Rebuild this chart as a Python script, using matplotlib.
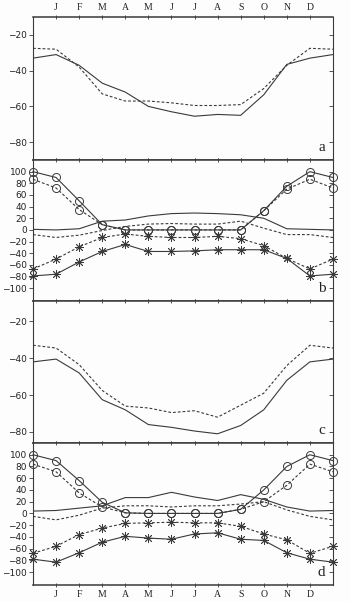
import numpy as np
import matplotlib
matplotlib.use("Agg")
import matplotlib.pyplot as plt

months = ['J', 'F', 'M', 'A', 'M', 'J', 'J', 'A', 'S', 'O', 'N', 'D']

# panel a (temperature-like curves)
a_solid = [-31, -37, -47, -52, -60, -63, -65.5, -64.5, -65, -53.5, -36.5, -33]
a_dash = [-28, -38, -53, -57, -57, -58, -59.5, -59.5, -59, -50, -37, -27.5]

# panel b
b_circ_solid = [90, 50, 9, 0, 0, 0, 0, 0, 0, 33, 75, 100]
b_circ_dash = [72, 35, 9, 0, 0, 0, 0, 0, 0, 33, 70, 87]
b_solid = [0, 2, 15, 17, 24, 28, 29, 28, 26, 20, 2, 1]
b_dash = [-13, -9, -1, 6, 10, 11, 10, 10, 15, 3, -8, -8]
b_star_solid = [-76, -55, -37, -25, -37, -37, -36, -34, -34, -34, -49, -79]
b_star_dash = [-50, -29, -13, -7, -11, -13, -13, -11, -15, -27, -49, -67]

# panel c
c_solid = [-40.5, -48, -62.5, -68, -76, -77.5, -79.5, -81, -76.5, -68, -52, -42]
c_dash = [-34.5, -43.5, -57.5, -66, -67, -69.5, -68.5, -72, -65.5, -59, -44, -33]

# panel d
d_circ_solid = [90, 56, 19, 1, 0, 0, 0, 0, 7, 40, 80, 100]
d_circ_dash = [71, 35, 11, 1, 0, 0, 0, 0, 7, 20, 48, 84]
d_solid = [5, 9, 13, 27, 27, 36, 28, 22, 32, 24, 11, 4]
d_dash = [-11, -3, 9, 13, 13, 11, 13, 13, 16, 20, 6, -5]
d_star_solid = [-83, -67, -49, -39, -42, -44, -35, -33, -44, -46, -67, -78]
d_star_dash = [-56, -36, -25, -17, -16, -15, -16, -16, -22, -35, -45, -68]

ink = '#3a3a3a'
x = np.arange(14)

def wrap(v):
    # December repeated on the left, January on the right
    return [v[-1]] + list(v) + [v[0]]

star = (8, 2, 0)

fig = plt.figure(figsize=(3.5, 6.02), dpi=100)
fig.patch.set_facecolor('#fdfdfd')

boxes = [(0.7342, 0.2375), (0.5, 0.2342), (0.2641, 0.2359), (0.0282, 0.2359)]
axes = []
for bottom, h in boxes:
    ax = fig.add_axes([0.0943, bottom, 0.857, h])
    ax.set_facecolor('#fdfdfd')
    ax.set_xlim(0, 13)
    ax.set_xticks(np.arange(1, 13))
    for s in ax.spines.values():
        s.set_color(ink)
        s.set_linewidth(0.8)
    ax.spines['top'].set_linewidth(1.1)
    ax.spines['bottom'].set_linewidth(1.1)
    ax.tick_params(axis='x', which='both', direction='inout', length=3, width=0.6,
                   color=ink, top=True, bottom=True, labelbottom=False, labeltop=False)
    ax.tick_params(axis='y', which='both', direction='out', length=3, width=0.6,
                   color=ink, labelsize=6.5, labelcolor='#222', pad=1.5, right=True)
    axes.append(ax)

ax_a, ax_b, ax_c, ax_d = axes

for ax in axes:
    for t in ax.yaxis.get_ticklines()[1::2]:
        t.set_marker(0)
        t.set_markersize(3)

ax_a.tick_params(axis='x', labeltop=True, labelsize=7, pad=2)
ax_d.tick_params(axis='x', labelbottom=True, labelsize=7, pad=2)
ax_a.set_xticklabels(months, family='Liberation Serif', color='#222')
ax_d.set_xticklabels(months, family='Liberation Serif', color='#222')

lw = 0.8
dash = (0, (2.5, 1.8))

# panel a
ax_a.plot(x, wrap(a_solid), color=ink, lw=lw)
ax_a.plot(x, wrap(a_dash), color=ink, lw=lw, ls=dash)
ax_a.set_ylim(-90, -10)
ax_a.set_yticks([-80, -60, -40, -20])

# panel c
ax_c.plot(x, wrap(c_solid), color=ink, lw=lw)
ax_c.plot(x, wrap(c_dash), color=ink, lw=lw, ls=dash)
ax_c.set_ylim(-86, -9)
ax_c.set_yticks([-80, -60, -40, -20])


def flux_panel(ax, cs, cd, s, d, ss, sd):
    ax.plot(x, wrap(s), color=ink, lw=lw)
    ax.plot(x, wrap(d), color=ink, lw=lw, ls=dash)
    circ = dict(marker='o', ms=5.8, mfc='none', mec=ink, mew=0.7, clip_on=False)
    ast = dict(marker=star, ms=6.5, mec=ink, mew=0.6, clip_on=False)
    ax.plot(x, wrap(cs), color=ink, lw=lw, **circ)
    ax.plot(x, wrap(cd), color=ink, lw=lw, ls=dash, **circ)
    ax.plot(x, wrap(ss), color=ink, lw=lw, **ast)
    ax.plot(x, wrap(sd), color=ink, lw=lw, ls=dash, **ast)
    ax.set_ylim(-122, 120)
    ax.set_yticks(np.arange(-100, 101, 20))


flux_panel(ax_b, b_circ_solid, b_circ_dash, b_solid, b_dash, b_star_solid, b_star_dash)
flux_panel(ax_d, d_circ_solid, d_circ_dash, d_solid, d_dash, d_star_solid, d_star_dash)

for ax in axes:
    ax.set_yticklabels([str(int(v)).replace('-', '\u2212') for v in ax.get_yticks()])

for ax, lab in zip(axes, 'abcd'):
    ax.text(0.975, 0.04, lab, transform=ax.transAxes, ha='right', va='bottom',
            fontsize=11, family='Liberation Serif', color='#222')

fig.savefig('out.png', dpi=100, facecolor=fig.get_facecolor())
